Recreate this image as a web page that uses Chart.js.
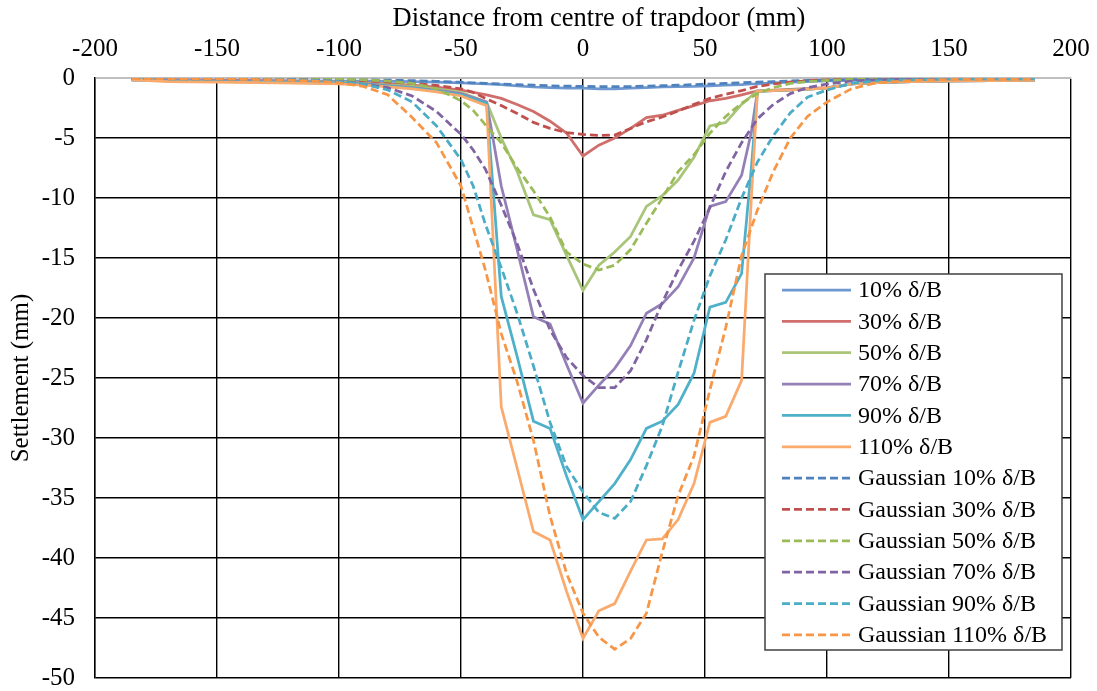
<!DOCTYPE html>
<html><head><meta charset="utf-8">
<script src="https://cdn.jsdelivr.net/npm/chart.js@4.4.1/dist/chart.umd.min.js"></script>
<style>html,body{margin:0;padding:0;background:#fff;}</style>
</head><body>
<canvas id="c" width="1097" height="691" style="display:block;width:1097px;height:691px"></canvas>
<script>
// ---- Data ----
const xTitle = "Distance from centre of trapdoor (mm)";
const yTitle = "Settlement (mm)";
const seriesNames = ["10% δ/B","30% δ/B","50% δ/B","70% δ/B","90% δ/B","110% δ/B",
  "Gaussian 10% δ/B","Gaussian 30% δ/B","Gaussian 50% δ/B","Gaussian 70% δ/B","Gaussian 90% δ/B","Gaussian 110% δ/B"];

// measured profiles (solid lines)
const xSolid = [-185,-170,-150,-125,-100,-85,-70,-60,-50,-39.5,-33.5,-27,-20.3,-13.5,-6.7,0,6.5,13,19.5,26,32.5,39,45.5,52,58.5,65,69,71.5,78,85,100,110,125,150,185];
const s10  = [-0.15,-0.18,-0.2,-0.22,-0.25,-0.27,-0.3,-0.35,-0.4,-0.5,-0.55,-0.65,-0.75,-0.8,-0.85,-0.85,-0.9,-0.9,-0.85,-0.8,-0.75,-0.72,-0.7,-0.65,-0.6,-0.55,-0.5,-0.48,-0.4,-0.35,-0.25,-0.2,-0.2,-0.2,-0.2];
const s30  = [-0.1,-0.15,-0.2,-0.25,-0.35,-0.45,-0.6,-0.75,-1.0,-1.4,-1.7,-2.2,-2.8,-3.6,-4.6,-6.5,-5.6,-5.0,-4.2,-3.3,-3.1,-2.7,-2.3,-1.9,-1.7,-1.4,-1.2,-1.1,-1.0,-0.95,-0.8,-0.5,-0.35,-0.25,-0.2];
const s50  = [-0.1,-0.2,-0.25,-0.3,-0.35,-0.5,-0.7,-0.9,-1.2,-2.0,-5.0,-7.8,-11.4,-11.8,-14.8,-17.7,-15.6,-14.5,-13.2,-10.7,-9.8,-8.5,-6.6,-4.0,-3.7,-2.2,-1.5,-1.1,-1.05,-1.0,-0.85,-0.5,-0.35,-0.25,-0.2];
const s70  = [-0.15,-0.2,-0.25,-0.3,-0.4,-0.55,-0.8,-1.0,-1.3,-2.0,-9.0,-14.3,-19.9,-20.5,-23.9,-27.1,-25.6,-24.2,-22.3,-19.6,-18.8,-17.4,-15.0,-10.7,-10.3,-8.1,-4.5,-1.1,-1.05,-1.0,-0.85,-0.5,-0.35,-0.25,-0.2];
const s90  = [-0.15,-0.25,-0.3,-0.35,-0.45,-0.6,-0.85,-1.1,-1.4,-2.1,-18.2,-23.2,-28.6,-29.2,-33.2,-36.8,-35.3,-33.8,-31.8,-29.2,-28.6,-27.2,-24.6,-19.1,-18.7,-16.3,-7.5,-1.1,-1.05,-1.0,-0.85,-0.5,-0.35,-0.25,-0.2];
const s110 = [-0.15,-0.3,-0.35,-0.4,-0.5,-0.65,-0.9,-1.15,-1.5,-2.3,-27.4,-32.5,-37.8,-38.5,-42.8,-46.7,-44.4,-43.8,-41.1,-38.5,-38.4,-36.8,-33.8,-28.7,-28.2,-25.2,-10.0,-1.1,-1.05,-1.0,-0.85,-0.5,-0.35,-0.25,-0.2];

// Gaussian fits (dashed lines)
const xGauss = [-185,-150,-125,-110,-100,-90,-80,-70,-60,-50,-45,-40,-33.5,-27,-20.3,-13.5,-6.7,0,6.5,13,19.5,26,32.5,39,45.5,52,58.5,65,71.5,78,85,92,100,110,120,135,150,185];
const g10  = [-0.05,-0.07,-0.08,-0.1,-0.12,-0.15,-0.18,-0.22,-0.28,-0.35,-0.4,-0.45,-0.5,-0.55,-0.6,-0.65,-0.68,-0.7,-0.72,-0.72,-0.71,-0.68,-0.64,-0.6,-0.55,-0.5,-0.45,-0.4,-0.35,-0.3,-0.25,-0.2,-0.17,-0.13,-0.1,-0.08,-0.06,-0.05];
const g30  = [-0.02,-0.04,-0.07,-0.1,-0.15,-0.22,-0.32,-0.45,-0.62,-0.9,-1.2,-1.7,-2.3,-2.95,-3.7,-4.2,-4.55,-4.7,-4.78,-4.75,-4.2,-3.65,-3.25,-2.75,-2.2,-1.7,-1.35,-1.05,-0.7,-0.5,-0.35,-0.22,-0.15,-0.1,-0.06,-0.04,-0.03,-0.02];
const g50  = [-0.02,-0.03,-0.05,-0.07,-0.1,-0.15,-0.25,-0.45,-0.9,-1.9,-2.7,-3.9,-5.4,-7.5,-9.4,-11.6,-14.5,-15.5,-16.0,-15.6,-14.3,-12.1,-10.0,-7.8,-6.4,-4.6,-3.2,-2.1,-1.3,-0.8,-0.45,-0.3,-0.2,-0.12,-0.08,-0.05,-0.03,-0.02];
const g70  = [-0.02,-0.05,-0.1,-0.18,-0.3,-0.5,-0.8,-1.5,-2.8,-4.7,-6.0,-7.6,-10.6,-13.8,-17.6,-21.0,-23.3,-24.8,-25.8,-25.8,-24.4,-21.8,-18.7,-16.0,-13.6,-10.8,-7.8,-5.4,-3.4,-2.2,-1.3,-0.8,-0.5,-0.25,-0.15,-0.08,-0.05,-0.02];
const g90  = [-0.05,-0.08,-0.12,-0.2,-0.3,-0.5,-1.0,-2.0,-4.0,-6.8,-9.0,-12.2,-15.8,-19.6,-24.0,-28.7,-32.4,-34.5,-36.2,-36.7,-35.3,-32.3,-29.0,-24.5,-20.2,-16.5,-13.5,-10.0,-7.0,-4.8,-2.9,-1.6,-1.0,-0.45,-0.25,-0.15,-0.1,-0.08];
const g110 = [-0.05,-0.08,-0.15,-0.25,-0.4,-0.7,-1.4,-3.3,-5.4,-9.0,-12.5,-16.0,-21.3,-25.3,-30.2,-36.5,-41.3,-44.6,-46.6,-47.6,-46.7,-44.6,-39.5,-34.8,-31.5,-26.0,-20.8,-14.8,-11.0,-7.8,-5.0,-3.2,-2.0,-0.9,-0.4,-0.2,-0.12,-0.1];

const xTicks = {min:-200, max:200, step:50};
const yTicks = {min:-50, max:0, step:5};

// ---- Styles ----
const solidColors = ['#6e98cf','#cf6e6b','#a8c579','#9480b6','#4fb0c9','#f9aa6c'];
const dashColors  = ['#4f81bd','#c0504d','#9bbb59','#8064a2','#4bacc6','#f79646'];
const FONT = "'Liberation Serif','Times New Roman',serif";

const solidY = [s10,s30,s50,s70,s90,s110];
const gaussY = [g10,g30,g50,g70,g90,g110];

const datasets = [];
solidY.forEach((ys,i)=>{
  datasets.push({label:seriesNames[i], data: xSolid.map((x,k)=>({x:x,y:ys[k]})),
    borderColor:solidColors[i], borderWidth:2.75, pointRadius:0, tension:0, fill:false,
    order: 11 - i, _dash:false});
});
gaussY.forEach((ys,i)=>{
  datasets.push({label:seriesNames[6+i], data: xGauss.map((x,k)=>({x:x,y:ys[k]})),
    borderColor:dashColors[i], borderWidth:2.75, borderDash:[8,4], pointRadius:0, tension:0, fill:false,
    order: 5 - i, _dash:true});
});

const legendPlugin = {
  id:'boxLegend',
  afterDraw(chart){
    const c = chart.ctx;
    c.save();
    // x-axis title (slightly right of plot centre, as in the reference)
    c.font = "26.5px " + FONT;
    c.fillStyle = '#000'; c.textAlign='center'; c.textBaseline='middle';
    c.fillText(xTitle, chart.chartArea.left + (chart.chartArea.right-chart.chartArea.left)/2 + 16, 19);
    // legend box
    const bx=765, by=274, bw=297, bh=376;
    c.fillStyle='#fff';
    c.fillRect(bx,by,bw,bh);
    c.strokeStyle='#404040'; c.lineWidth=1.5;
    c.strokeRect(bx,by,bw,bh);
    c.font = "24px " + FONT;
    c.textBaseline='middle'; c.textAlign='left';
    chart.data.datasets.forEach((ds,i)=>{
      const y = 290 + i*31.35;
      c.beginPath();
      c.strokeStyle = ds.borderColor; c.lineWidth = 2.75;
      c.setLineDash(ds._dash ? [8,4] : []);
      c.moveTo(782,y); c.lineTo(851,y); c.stroke();
      c.setLineDash([]);
      c.fillStyle='#000';
      c.fillText(ds.label, 858, y+1);
    });
    c.restore();
  }
};

function zeroPad(s){ s.paddingLeft=0; s.paddingRight=0; s.paddingTop=0; s.paddingBottom=0; }

new Chart(document.getElementById('c').getContext('2d'), {
  type:'line',
  data:{datasets},
  plugins:[legendPlugin],
  options:{
    responsive:false, animation:false, devicePixelRatio:1,
    layout:{padding:{left:0, top:0, right:26, bottom:13}},
    plugins:{legend:{display:false}, tooltip:{enabled:false}},
    scales:{
      x:{type:'linear', position:'top', min:xTicks.min, max:xTicks.max,
        afterFit(s){ s.height = 78; zeroPad(s); },
        ticks:{stepSize:xTicks.step, color:'#000', padding:14, maxRotation:0, autoSkip:false,
          font:{family:FONT, size:25}},
        grid:{color:'#000', lineWidth:1.4, drawTicks:false},
        border:{color:'#bfbfbf', width:2},
        title:{display:false}
      },
      y:{type:'linear', min:yTicks.min, max:yTicks.max,
        afterFit(s){ s.width = 95; zeroPad(s); },
        ticks:{stepSize:yTicks.step, color:'#000', padding:20, font:{family:FONT, size:25}},
        grid:{color:(ctx)=> ctx.tick && ctx.tick.value===0 ? '#bfbfbf' : '#000', lineWidth:(ctx)=> ctx.tick && ctx.tick.value===0 ? 2 : 1.4, drawTicks:false},
        border:{color:'#000', width:1.4},
        title:{display:true, text:yTitle, color:'#000', font:{family:FONT, size:25}, padding:{top:6,bottom:0}}
      }
    }
  }
});
</script>
</body></html>
